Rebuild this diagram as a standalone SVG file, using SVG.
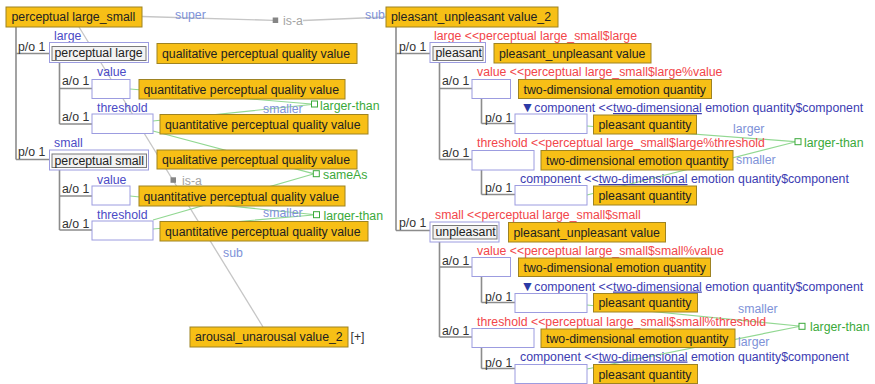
<svg xmlns="http://www.w3.org/2000/svg" width="875" height="384" viewBox="0 0 875 384">
<style>
  text { font-family: "Liberation Sans", Arial, sans-serif; font-size: 12.3px; }
  .box { fill: #f7bf16; stroke: #9e8322; stroke-width: 1; }
  .slot { fill: #ffffff; stroke: #9c9ce0; stroke-width: 1; }
  .inst { fill: #f3f3f3; stroke: #7a7a7a; stroke-width: 1; }
  .nt { fill: #222222; }
  .card { fill: #333333; }
  .role { fill: #4b4bc6; }
  .red { fill: #f2464a; }
  .cmp { fill: #3c3cb2; }
  .tri { fill: #2c3aa6; font-size: 14px; }
  .rel { fill: #7e92d8; }
  .grn { fill: #3aa93a; }
  .isa { fill: #a4a4a4; }
  .tree { fill: none; stroke: #8c8c8c; stroke-width: 1.6; }
  .gline { fill: none; stroke: #92d892; stroke-width: 1.2; }
  .gsq { fill: #ffffff; stroke: #3aa93a; stroke-width: 1; }
  .hier { fill: none; stroke: #c6c6c6; stroke-width: 1.3; }
  .isq { fill: #858585; }
</style>

<!-- relations, hierarchy links and tree lines -->
<g id="connectors">
  <!-- tree lines, left -->
  <path class="tree" d="M16,27 V159.5 M16,53.5 H49.5 M16,159.5 H49.5
    M59.5,62.5 V124 M59.5,88.5 H92 M59.5,124 H92
    M59.5,170 V230 M59.5,196 H92 M59.5,230 H92"/>
  <!-- tree lines, right -->
  <path class="tree" d="M396,27 V230.5 M396,53.5 H430 M396,230.5 H430
    M439.5,62 V159.5 M439.5,88.5 H472 M439.5,159.5 H472
    M481.5,98.5 V123.5 M481.5,123.5 H515 M481.5,170 V194.5 M481.5,194.5 H515
    M439.5,242 V337 M439.5,267 H472 M439.5,337 H472
    M481.5,276 V302.5 M481.5,302.5 H515 M481.5,347.5 V368.5 M481.5,368.5 H515"/>

  <!-- is-a: perceptual large_small -> pleasant_unpleasant value_2 -->
  <path class="hier" d="M142,16.5 L273,20.3 M303,20.5 L386,17"/>
  <rect class="isq" x="272.7" y="17.5" width="5.5" height="5.5"/>
  <text class="isa" x="283" y="25">is-a</text>
  <text class="rel" x="175" y="18.5">super</text>
  <text class="rel" x="365" y="18.5">sub</text>

  <!-- is-a: perceptual large_small -> arousal_unarousal value_2 -->
  <path class="hier" d="M79,27 L263,327"/>
  <rect class="isq" x="170.5" y="177.3" width="5.5" height="5.5"/>
  <text class="isa" x="182" y="184.5">is-a</text>
  <text class="rel" x="223" y="257">sub</text>

  <!-- larger-than (large) -->
  <path class="gline" d="M130,89 L311.5,104 M153,121 L311.5,104.5"/>
  <rect class="gsq" x="311.5" y="101" width="6" height="6"/>
  <text class="rel" x="263" y="112.5">smaller</text>
  <text class="grn" x="320" y="109.5">larger-than</text>

  <!-- sameAs between thresholds -->
  <path class="gline" d="M153,131 L313.3,173.7 M153,220 L313.3,174"/>
  <rect class="gsq" x="313.3" y="170.7" width="6" height="6"/>
  <text class="grn" x="323" y="179">sameAs</text>

  <!-- larger-than (small) -->
  <path class="gline" d="M130,196 L313.3,214.5 M153,229 L313.3,215"/>
  <rect class="gsq" x="313.5" y="211.7" width="6" height="6"/>
  <text class="rel" x="263" y="216.5">smaller</text>
  <text class="grn" x="323.5" y="219.5">larger-than</text>

  <!-- larger-than (pleasant) -->
  <path class="gline" d="M587,126 L795,141.7 M587,195 L795,142"/>
  <rect class="gsq" x="795" y="138.7" width="6" height="6"/>
  <text class="rel" x="733" y="132.5">larger</text>
  <text class="rel" x="736" y="163.5">smaller</text>
  <text class="grn" x="804" y="146.5">larger-than</text>

  <!-- larger-than (unpleasant) -->
  <path class="gline" d="M587,305 L799,326 M587,369 L799,326.5"/>
  <rect class="gsq" x="799" y="323.3" width="6" height="6"/>
  <text class="rel" x="738" y="313">smaller</text>
  <text class="rel" x="738" y="346">larger</text>
  <text class="grn" x="810" y="330.7">larger-than</text>
</g>

<!-- left concept -->
<g id="perceptual-large-small">
  <rect class="box" x="6" y="7" width="136" height="20"/>
  <text class="nt" x="11.5" y="21.3">perceptual large_small</text>
</g>

<g id="perceptual-large">
  <text class="card" x="18" y="51">p/o 1</text>
  <text class="role" x="54" y="39.5">large</text>
  <rect class="slot" x="49.5" y="42.5" width="99" height="20"/>
  <rect class="inst" x="52" y="46.5" width="94" height="14"/>
  <text class="nt" x="54.5" y="57.3">perceptual large</text>
  <rect class="box" x="157" y="43.5" width="200" height="20"/>
  <text class="nt" x="162" y="58">qualitative perceptual quality value</text>
</g>

<g id="large-value">
  <text class="card" x="62" y="84.5">a/o 1</text>
  <text class="role" x="97" y="76">value</text>
  <rect class="slot" x="92" y="79.5" width="38" height="19"/>
  <rect class="box" x="139" y="79.5" width="206" height="19.5"/>
  <text class="nt" x="143.5" y="93.8">quantitative perceptual quality value</text>
</g>

<g id="large-threshold">
  <text class="card" x="62" y="120.5">a/o 1</text>
  <text class="role" x="97" y="111.5">threshold</text>
  <rect class="slot" x="92" y="114" width="61" height="19.5"/>
  <rect class="box" x="160" y="114.5" width="208" height="19.5"/>
  <text class="nt" x="165" y="128.8">quantitative perceptual quality value</text>
</g>

<g id="perceptual-small">
  <text class="card" x="18" y="156">p/o 1</text>
  <text class="role" x="54" y="147">small</text>
  <rect class="slot" x="49.5" y="150" width="99" height="20"/>
  <rect class="inst" x="52" y="154" width="94.5" height="13.5"/>
  <text class="nt" x="54.5" y="164.5">perceptual small</text>
  <rect class="box" x="157" y="150" width="200" height="19"/>
  <text class="nt" x="162" y="164">qualitative perceptual quality value</text>
</g>

<g id="small-value">
  <text class="card" x="62" y="192.5">a/o 1</text>
  <text class="role" x="97" y="183.5">value</text>
  <rect class="slot" x="92" y="186" width="38" height="19"/>
  <rect class="box" x="139" y="186" width="206" height="20"/>
  <text class="nt" x="143.5" y="200.5">quantitative perceptual quality value</text>
</g>

<g id="small-threshold">
  <text class="card" x="62" y="227.5">a/o 1</text>
  <text class="role" x="97" y="219">threshold</text>
  <rect class="slot" x="92" y="221" width="61" height="19"/>
  <rect class="box" x="160" y="221.5" width="208" height="19.5"/>
  <text class="nt" x="165" y="235.8">quantitative perceptual quality value</text>
</g>

<g id="arousal-unarousal">
  <rect class="box" x="190" y="327" width="158" height="20"/>
  <text class="nt" x="195" y="341.3">arousal_unarousal value_2</text>
  <text class="card" x="350.5" y="341.3">[+]</text>
</g>

<!-- right concept -->
<g id="pleasant-unpleasant">
  <rect class="box" x="386" y="7" width="172" height="20"/>
  <text class="nt" x="391" y="21.3">pleasant_unpleasant value_2</text>
</g>

<g id="pleasant">
  <text class="card" x="399" y="50.5">p/o 1</text>
  <text class="red" x="434" y="39.5">large &lt;&lt;perceptual large_small$large</text>
  <rect class="slot" x="430" y="42.5" width="55.5" height="20"/>
  <rect class="inst" x="433" y="46.5" width="50" height="14"/>
  <text class="nt" x="435.5" y="57.3">pleasant</text>
  <rect class="box" x="494" y="43.5" width="157" height="19.5"/>
  <text class="nt" x="499" y="57.8">pleasant_unpleasant value</text>
</g>

<g id="pleasant-value">
  <text class="card" x="442" y="85">a/o 1</text>
  <text class="red" x="477" y="76">value &lt;&lt;perceptual large_small$large%value</text>
  <rect class="slot" x="472" y="79.5" width="38.5" height="19"/>
  <rect class="box" x="518.5" y="79.5" width="193" height="19"/>
  <text class="nt" x="523.5" y="93.5">two-dimensional emotion quantity</text>
</g>

<g id="pleasant-value-component">
  <text class="card" x="485" y="121.5">p/o 1</text>
  <text class="cmp" x="520.5" y="112"><tspan class="tri">▼</tspan>component &lt;&lt;<tspan text-decoration="underline">two-dimensional</tspan> emotion quantity$component</text>
  <rect class="slot" x="515" y="114" width="72" height="19.5"/>
  <rect class="box" x="593.5" y="115" width="103" height="19"/>
  <text class="nt" x="598.5" y="129">pleasant quantity</text>
</g>

<g id="pleasant-threshold">
  <text class="card" x="442" y="156.5">a/o 1</text>
  <text class="red" x="477" y="146.5">threshold &lt;&lt;perceptual large_small$large%threshold</text>
  <rect class="slot" x="472" y="150.5" width="62" height="19.5"/>
  <rect class="box" x="541" y="150.5" width="192" height="19.5"/>
  <text class="nt" x="546" y="164.8">two-dimensional emotion quantity</text>
</g>

<g id="pleasant-threshold-component">
  <text class="card" x="485" y="192">p/o 1</text>
  <text class="cmp" x="520" y="183">component &lt;&lt;<tspan text-decoration="underline">two-dimensional</tspan> emotion quantity$component</text>
  <rect class="slot" x="515" y="185.5" width="72" height="19.5"/>
  <rect class="box" x="593.5" y="186" width="103" height="19"/>
  <text class="nt" x="598.5" y="200">pleasant quantity</text>
</g>

<g id="unpleasant">
  <text class="card" x="399" y="227">p/o 1</text>
  <text class="red" x="435" y="219">small &lt;&lt;perceptual large_small$small</text>
  <rect class="slot" x="430" y="222" width="69" height="20"/>
  <rect class="inst" x="433" y="225.5" width="64" height="13.5"/>
  <text class="nt" x="435.5" y="236">unpleasant</text>
  <rect class="box" x="508.5" y="222.5" width="157" height="19.5"/>
  <text class="nt" x="513.5" y="236.8">pleasant_unpleasant value</text>
</g>

<g id="unpleasant-value">
  <text class="card" x="442" y="265">a/o 1</text>
  <text class="red" x="477" y="255">value &lt;&lt;perceptual large_small$small%value</text>
  <rect class="slot" x="472" y="257.5" width="38.5" height="19"/>
  <rect class="box" x="518.5" y="258" width="192" height="18.5"/>
  <text class="nt" x="523.5" y="271.8">two-dimensional emotion quantity</text>
</g>

<g id="unpleasant-value-component">
  <text class="card" x="485" y="300.5">p/o 1</text>
  <text class="cmp" x="520.5" y="290.5"><tspan class="tri">▼</tspan>component &lt;&lt;<tspan text-decoration="underline">two-dimensional</tspan> emotion quantity$component</text>
  <rect class="slot" x="515" y="293.5" width="72" height="19"/>
  <rect class="box" x="593.5" y="293.5" width="104" height="18.5"/>
  <text class="nt" x="598.5" y="307.3">pleasant quantity</text>
</g>

<g id="unpleasant-threshold">
  <text class="card" x="442" y="334.5">a/o 1</text>
  <text class="red" x="477" y="326">threshold &lt;&lt;perceptual large_small$small%threshold</text>
  <rect class="slot" x="472" y="328.5" width="62" height="19"/>
  <rect class="box" x="541" y="329" width="194" height="18.5"/>
  <text class="nt" x="546" y="342.8">two-dimensional emotion quantity</text>
</g>

<g id="unpleasant-threshold-component">
  <text class="card" x="485" y="366.5">p/o 1</text>
  <text class="cmp" x="520" y="360.5">component &lt;&lt;<tspan text-decoration="underline">two-dimensional</tspan> emotion quantity$component</text>
  <rect class="slot" x="515" y="364.5" width="72" height="19"/>
  <rect class="box" x="593.5" y="364.5" width="104" height="19"/>
  <text class="nt" x="598.5" y="378.5">pleasant quantity</text>
</g>
</svg>
